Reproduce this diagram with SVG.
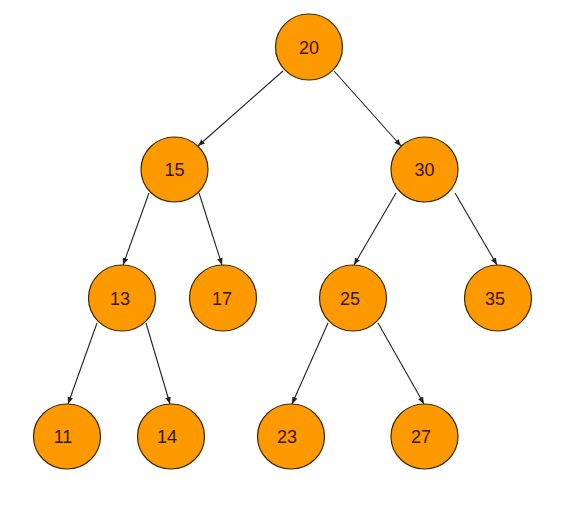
<svg xmlns="http://www.w3.org/2000/svg" width="564" height="505" viewBox="0 0 564 505">
<defs>
<style>
.n ellipse{fill:#FF9900;stroke:#3a2800;stroke-width:1.2}
.n text{font-family:"Liberation Sans",Arial,sans-serif;font-size:18px;fill:#3a1500;text-anchor:middle}
.e line{stroke:#222;stroke-width:1.1;marker-end:url(#a)}
</style>
<marker id="a" viewBox="0 0 10 10" refX="10" refY="5" markerWidth="7" markerHeight="7" orient="auto" markerUnits="userSpaceOnUse">
<path d="M0,1 L10,5 L0,9 Z" fill="#222"/>
</marker>
</defs>
<rect width="564" height="505" fill="#fff"/>
<g id="edges" class="e">
<line x1="283" y1="71" x2="198" y2="146"/>
<line x1="334" y1="71" x2="401" y2="146"/>
<line x1="149" y1="193" x2="123" y2="265"/>
<line x1="199" y1="193" x2="222" y2="265"/>
<line x1="396" y1="193" x2="354" y2="265"/>
<line x1="455" y1="193" x2="497" y2="265"/>
<line x1="97" y1="323" x2="68" y2="404"/>
<line x1="146" y1="323" x2="170" y2="404"/>
<line x1="328" y1="323" x2="292" y2="404"/>
<line x1="378" y1="323" x2="424" y2="404"/>
</g>
<g id="n20" class="n"><ellipse cx="309" cy="47" rx="33.5" ry="33"/><text x="309" y="54">20</text></g>
<g id="n15" class="n"><ellipse cx="174.5" cy="169.5" rx="33.5" ry="32.5"/><text x="174.5" y="176">15</text></g>
<g id="n30" class="n"><ellipse cx="424.5" cy="169.5" rx="33.5" ry="32.5"/><text x="424.5" y="176">30</text></g>
<g id="n13" class="n"><ellipse cx="122" cy="298" rx="33.5" ry="33"/><text x="120" y="305">13</text></g>
<g id="n17" class="n"><ellipse cx="223" cy="298" rx="33.5" ry="33"/><text x="222" y="305">17</text></g>
<g id="n25" class="n"><ellipse cx="353" cy="298" rx="33.5" ry="33"/><text x="350" y="305">25</text></g>
<g id="n35" class="n"><ellipse cx="498" cy="298" rx="33.5" ry="33"/><text x="495" y="305">35</text></g>
<g id="n11" class="n"><ellipse cx="67" cy="436.5" rx="33.5" ry="32.5"/><text x="63" y="443">11</text></g>
<g id="n14" class="n"><ellipse cx="171" cy="436.5" rx="33.5" ry="32.5"/><text x="167" y="443">14</text></g>
<g id="n23" class="n"><ellipse cx="291" cy="436.5" rx="33.5" ry="32.5"/><text x="287" y="443">23</text></g>
<g id="n27" class="n"><ellipse cx="424.5" cy="436.5" rx="33.5" ry="32.5"/><text x="421" y="443">27</text></g>
</svg>
